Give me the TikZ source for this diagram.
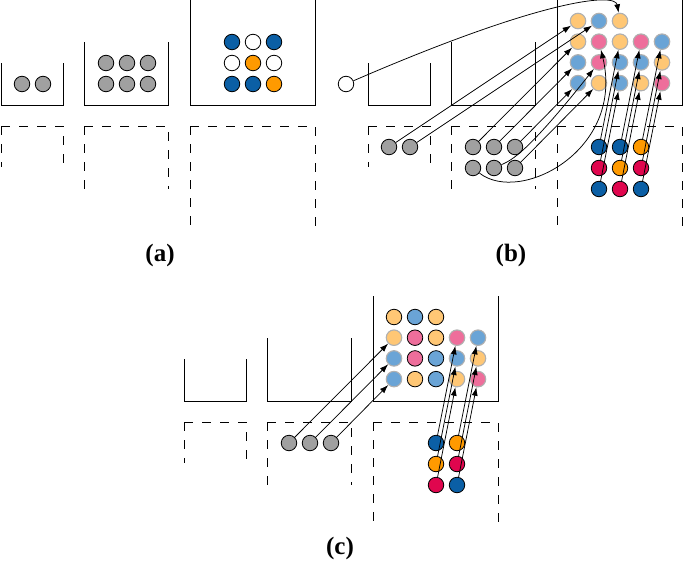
\documentclass[tikz,border=0pt]{standalone}
\usepackage{fontspec}
\setmainfont{Liberation Serif}
\usetikzlibrary{arrows.meta}
\definecolor{cgray}{HTML}{A0A0A0}
\definecolor{dblue}{HTML}{0B5FA5}
\definecolor{dred}{HTML}{E0064E}
\definecolor{dorange}{HTML}{FF9A00}
\definecolor{lorange}{HTML}{FFC775}
\definecolor{lblue}{HTML}{6AA4D6}
\definecolor{lpink}{HTML}{EE6E9B}
\definecolor{ring}{HTML}{B0B0B0}
\tikzset{
  panel/.pic={
    \draw[box] (1,63) -- (1,105) -- (63,105) -- (63,63);
    \draw[box] (84,42) -- (84,105) -- (168,105) -- (168,42);
    \draw[box] (190,0) -- (190,105) -- (315,105) -- (315,0);
    \draw[dbox] (1,126) -- (1,167);
    \draw[dbox] (1,126) -- (63,126) -- (63,167);
    \draw[dbox] (84,126) -- (84,189);
    \draw[dbox] (84,126) -- (168,126) -- (168,189);
    \draw[dbox] (190,126) -- (190,231);
    \draw[dbox] (190,126) -- (315,126) -- (315,231);
  }
}
\begin{document}
\begin{tikzpicture}[x=1pt,y=-1pt,
  ball/.style={circle,inner sep=0pt,minimum size=15.5pt,line width=0.8pt,draw=black},
  newball/.style={ball,draw=ring,line width=1.1pt},
  box/.style={line width=1pt},
  dbox/.style={line width=1pt,dash pattern=on 9pt off 9pt},
  arr/.style={line width=0.75pt,-{Latex[length=8.5pt,width=6pt]}},
  lab/.style={font=\bfseries\fontsize{25}{29}\selectfont}]
\useasboundingbox (0,0) rectangle (685,562);

% ---------- panel frames
\pic at (0,0) {panel};
\pic at (367,0) {panel};
\pic at (183,296) {panel};

% ---------- (a)
\node[ball,fill=cgray] (a11) at (22,84) {};
\node[ball,fill=cgray] (a12) at (43,84) {};
\foreach \r/\yy in {1/63,2/84}
  \foreach \c/\xx in {1/106,2/127,3/148}
    \node[ball,fill=cgray] (a2\r\c) at (\xx,\yy) {};
\foreach \r/\c/\col in {1/1/dblue,1/2/white,1/3/dblue,2/1/white,2/2/dorange,2/3/white,3/1/dblue,3/2/dblue,3/3/dorange}
  \node[ball,fill=\col] (a3\r\c) at ({211+21*\c},{21+21*\r}) {};
\node[lab] (la) at (160,255) {(a)};

% ---------- (b)
\node[ball,fill=white] (bw) at (346,84) {};
\node[ball,fill=cgray] (bg1) at (389,147) {};
\node[ball,fill=cgray] (bg2) at (410,147) {};
\foreach \r/\yy in {1/147,2/168}
  \foreach \c/\xx in {1/473,2/494,3/515}
    \node[ball,fill=cgray] (bh\r\c) at (\xx,\yy) {};
\foreach \r/\c/\col in {1/1/lorange,1/2/lblue,1/3/lorange,2/1/lorange,2/2/lpink,2/3/lorange,2/4/lpink,2/5/lblue,3/1/lblue,3/2/lpink,3/3/lblue,3/4/lblue,3/5/lorange,4/1/lblue,4/2/lorange,4/3/lblue,4/4/lorange,4/5/lpink}
  \node[newball,fill=\col] (bt\r\c) at ({557+21*\c},{20.7*\r+0.3}) {};
\foreach \r/\c/\col in {1/1/dblue,1/2/dblue,1/3/dorange,2/1/dred,2/2/dorange,2/3/dred,3/1/dblue,3/2/dred,3/3/dblue}
  \node[ball,fill=\col] (bd\r\c) at ({578+21*\c},{126+21*\r}) {};

\draw[arr] (bw) .. controls (540,0) and (615,-8) .. (bt13);
\draw[arr] (bg1) -- (bt11);
\draw[arr] (bg2) -- (bt12);
\draw[arr] (bh11) -- (bt21);
\draw[arr] (bh12) -- (bt31);
\draw[arr] (bh13) -- (bt41);
\draw[arr] (bh22) .. controls (512,160) and (527,153) .. (bt32);
\draw[arr] (bh23) -- (bt42);
\draw[arr] (bh21) .. controls (520,205) and (625,150) .. (bt22);
\foreach \r in {1,2,3}
  \foreach \c in {1,2,3} {
    \pgfmathtruncatemacro\rr{\r+1}
    \pgfmathtruncatemacro\cc{\c+2}
    \draw[arr] (bd\r\c) -- (bt\rr\cc);
  }
\node[lab] (lb) at (511,255) {(b)};

% ---------- (c)
\foreach \r/\c/\col/\st in {1/1/lorange/ball,1/2/lblue/ball,1/3/lorange/ball,2/1/lorange/newball,2/2/lpink/ball,2/3/lorange/ball,2/4/lpink/newball,2/5/lblue/newball,3/1/lblue/newball,3/2/lpink/ball,3/3/lblue/ball,3/4/lblue/newball,3/5/lorange/newball,4/1/lblue/newball,4/2/lorange/ball,4/3/lblue/ball,4/4/lorange/newball,4/5/lpink/newball}
  \node[\st,fill=\col] (ct\r\c) at ({373+21*\c},{296.3+20.7*\r}) {};
\node[ball,fill=cgray] (cg1) at (289,443) {};
\node[ball,fill=cgray] (cg2) at (310,443) {};
\node[ball,fill=cgray] (cg3) at (331,443) {};
\foreach \r/\c/\col in {1/1/dblue,1/2/dorange,2/1/dorange,2/2/dred,3/1/dred,3/2/dblue}
  \node[ball,fill=\col] (cd\r\c) at ({415+21*\c},{422+21*\r}) {};
\draw[arr] (cg1) -- (ct21);
\draw[arr] (cg2) -- (ct31);
\draw[arr] (cg3) -- (ct41);
\foreach \r in {1,2,3}
  \foreach \c in {1,2} {
    \pgfmathtruncatemacro\rr{\r+1}
    \pgfmathtruncatemacro\cc{\c+3}
    \draw[arr] (cd\r\c) -- (ct\rr\cc);
  }
\node[lab] (lc) at (340,548) {(c)};
\end{tikzpicture}
\end{document}
